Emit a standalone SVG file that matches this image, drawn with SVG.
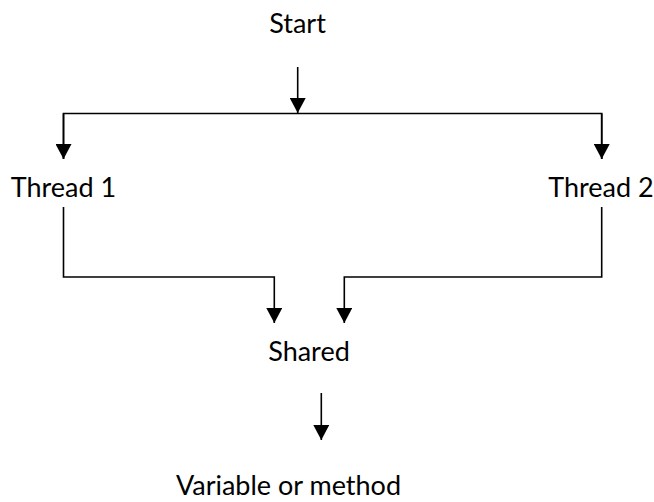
<svg xmlns="http://www.w3.org/2000/svg" width="654" height="502" viewBox="0 0 654 502">
<style>
  text { font-family: Lato, "Open Sans", sans-serif; font-size: 27px; fill: #000; text-anchor: middle; }
  .c { fill: none; stroke: #000; stroke-width: 1.6; marker-end: url(#ah); }
  .p { fill: none; stroke: #000; stroke-width: 1.6; }
</style>
<defs>
  <marker id="ah" markerUnits="userSpaceOnUse" markerWidth="16" markerHeight="16" viewBox="0 0 16 16" refX="15" refY="8" orient="auto">
    <path d="M0,0 L15,8 L0,16 z" fill="#000"/>
  </marker>
</defs>
<rect width="654" height="502" fill="#fff"/>
<g id="start"><text x="297.5" y="33">Start</text></g>
<g id="thread1"><text x="63.5" y="197">Thread 1</text></g>
<g id="thread2"><text x="601" y="197">Thread 2</text></g>
<g id="shared"><text x="309" y="361">Shared</text></g>
<g id="variable"><text x="288.5" y="495">Variable or method</text></g>
<g id="connectors">
  <line class="c" x1="297.7" y1="67" x2="297.7" y2="113"/>
  <polyline class="p" points="63.5,159 63.5,113.5 601.7,113.5 601.7,159"/>
  <line class="c" x1="63.5" y1="113.5" x2="63.5" y2="159"/>
  <line class="c" x1="601.7" y1="113.5" x2="601.7" y2="159"/>
  <polyline class="c" points="63.5,207 63.5,277 274.3,277 274.3,323"/>
  <polyline class="c" points="601.7,207 601.7,277 344.3,277 344.3,323"/>
  <line class="c" x1="321.3" y1="393" x2="321.3" y2="440"/>
</g>
</svg>
